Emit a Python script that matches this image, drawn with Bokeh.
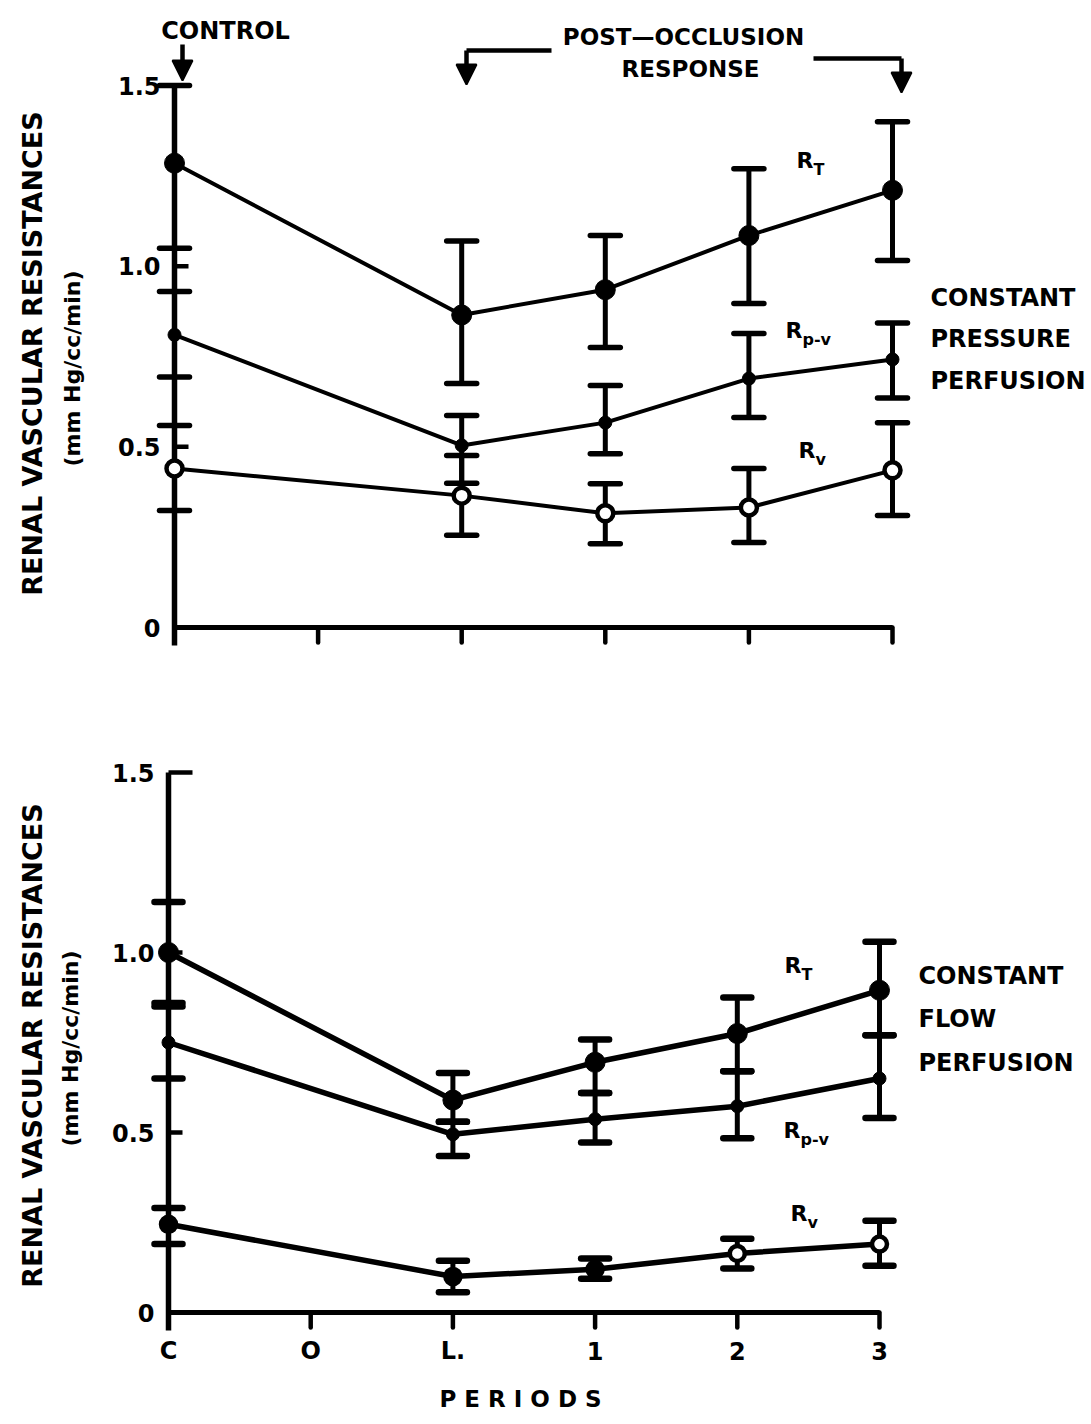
import math
from bokeh.plotting import figure
from bokeh.layouts import column
from bokeh.models import ColumnDataSource, Whisker, TeeHead, Arrow, NormalHead, Range1d
from bokeh.core.properties import value
from bokeh.embed import file_html
from bokeh.resources import INLINE

# ---------------- data ----------------
PERIODS = ["C", "O", "L.", "1", "2", "3"]
MEASURED = ["C", "L.", "1", "2", "3"]
Y_TICKS = [0, 0.5, 1.0, 1.5]
Y_TICK_LABELS = ["0", "0.5", "1.0", "1.5"]

# constant pressure perfusion (top)
rt_top = [1.285, 0.865, 0.935, 1.085, 1.21]
rt_top_hi = [1.50, 1.07, 1.085, 1.27, 1.40]
rt_top_lo = [1.05, 0.675, 0.775, 0.897, 1.016]
rpv_top = [0.81, 0.504, 0.567, 0.689, 0.742]
rpv_top_hi = [0.93, 0.587, 0.67, 0.814, 0.843]
rpv_top_lo = [0.693, 0.399, 0.481, 0.581, 0.635]
rv_top = [0.44, 0.365, 0.316, 0.332, 0.435]
rv_top_hi = [0.559, 0.476, 0.398, 0.44, 0.567]
rv_top_lo = [0.324, 0.255, 0.232, 0.235, 0.31]

# constant flow perfusion (bottom)
rt_bot = [1.00, 0.59, 0.695, 0.775, 0.895]
rt_bot_hi = [1.14, 0.665, 0.758, 0.875, 1.03]
rt_bot_lo = [0.86, 0.53, 0.61, 0.67, 0.77]
rpv_bot = [0.75, 0.495, 0.537, 0.573, 0.65]
rpv_bot_hi = [0.85, 0.53, 0.61, 0.67, 0.77]
rpv_bot_lo = [0.65, 0.435, 0.472, 0.484, 0.54]
rv_bot = [0.245, 0.10, 0.12, 0.164, 0.19]
rv_bot_hi = [0.29, 0.144, 0.15, 0.205, 0.255]
rv_bot_lo = [0.19, 0.056, 0.094, 0.122, 0.13]

SERIES_SUBS = ["T", "p-v", "v"]
Y_TITLE = "RENAL VASCULAR RESISTANCES"
Y_UNITS = "(mm Hg/cc/min)"
X_TITLE = "P E R I O D S"

# marker fills (style) for the venous series in each panel
RV_FILL_TOP = ["white"] * 5
RV_FILL_BOT = ["black", "black", "black", "white", "white"]

FONT = value("DejaVu Sans")
XS = [PERIODS.index(m) for m in MEASURED]
W = 1091


def make_panel(cfg):
    x0, kx, y0, ky, top, h = cfg["x0"], cfg["kx"], cfg["y0"], cfg["ky"], cfg["top"], cfg["h"]
    tx = lambda px: (px - x0) / kx
    ty = lambda py: (y0 - py) / ky
    p = figure(width=W, height=h, output_backend="svg", toolbar_location=None,
               x_axis_type=None, y_axis_type=None, min_border=0,
               x_range=Range1d(tx(0), tx(W)), y_range=Range1d(ty(top + h), ty(top)))
    p.title.visible = False
    p.outline_line_color = None
    p.grid.visible = False
    p.background_fill_color = "white"
    p.border_fill_color = "white"

    lw = cfg["lw"]
    # axes
    p.segment(x0=[0], y0=[-18 / ky], x1=[0], y1=[max(Y_TICKS)], line_width=5.5, color="black")
    p.segment(x0=[0], y0=[0], x1=[len(PERIODS) - 1], y1=[0], line_width=5, color="black")
    xt = list(range(1, len(PERIODS)))
    p.segment(x0=xt, y0=[0] * len(xt), x1=xt, y1=[-15 / ky] * len(xt), line_width=4.5, color="black",
              line_cap="round")
    yt = [t for t in Y_TICKS if 0 < t < max(Y_TICKS)] + ([max(Y_TICKS)] if cfg["toptick"] else [])
    p.segment(x0=[0] * len(yt), y0=yt, x1=[(14 if t < max(Y_TICKS) else 24) / kx for t in yt], y1=yt,
              line_width=4.5, color="black")
    p.text(x=[tx(x0 - 14)] * len(Y_TICKS), y=Y_TICKS, text=Y_TICK_LABELS, text_align="right",
           text_baseline="middle", text_font=FONT, text_font_style="bold", text_font_size="24px",
           color="black")
    if cfg["xlabels"]:
        p.text(x=list(range(len(PERIODS))), y=[ty(y0 + 38)] * len(PERIODS), text=PERIODS,
               text_align="center", text_baseline="middle", text_font=FONT, text_font_style="bold",
               text_font_size="24px", color="black")
        p.text(x=[tx(520)], y=[ty(y0 + 86)], text=[X_TITLE], text_align="center", text_baseline="middle",
               text_font=FONT, text_font_style="bold", text_font_size="23px", color="black")

    # axis titles
    p.text(x=[tx(32)], y=[ty(cfg["ytc"])], text=[Y_TITLE], angle=math.pi / 2, text_align="center",
           text_baseline="middle", text_font=FONT, text_font_style="bold", text_font_size="27px",
           color="black")
    p.text(x=[tx(cfg["utx"])], y=[ty(cfg["utc"])], text=[Y_UNITS], angle=math.pi / 2, text_align="center",
           text_baseline="middle", text_font=FONT, text_font_style="bold", text_font_size="22px",
           color="black")

    # data
    data = cfg["data"]
    for k, (ys, hi, lo) in enumerate(data):
        p.line(XS, ys, line_width=lw, color="black")
    for k, (ys, hi, lo) in enumerate(data):
        src = ColumnDataSource(dict(x=XS, hi=hi, lo=lo))
        p.add_layout(Whisker(source=src, base="x", upper="hi", lower="lo", line_width=5,
                             line_color="black",
                             upper_head=TeeHead(size=cfg["cap"], line_width=cfg["capw"], line_color="black",
                                                line_cap="round"),
                             lower_head=TeeHead(size=cfg["cap"], line_width=cfg["capw"], line_color="black",
                                                line_cap="round")))
    (rt, _, _), (rpv, _, _), (rv, _, _) = data
    p.scatter(XS, rt, marker="circle", size=20, fill_color="black", line_color="black")
    p.scatter(XS, rpv, marker="circle", size=13, fill_color="black", line_color="black")
    src_rv = ColumnDataSource(dict(x=XS, y=rv, fill=cfg["rvfill"]))
    p.scatter("x", "y", source=src_rv, marker="circle", size=cfg["rvsize"], fill_color="fill",
              line_color="black", line_width=4.5)

    # series labels
    for sub, (lx, ly) in zip(SERIES_SUBS, cfg["lab"]):
        p.text(x=[tx(lx)], y=[ty(ly)], text=["R"], text_align="left", text_baseline="middle",
               text_font=FONT, text_font_style="bold", text_font_size="22px", color="black")
        p.text(x=[tx(lx + 17)], y=[ty(ly + 9)], text=[sub], text_align="left", text_baseline="middle",
               text_font=FONT, text_font_style="bold", text_font_size="16px", color="black")

    # side label
    for i, line in enumerate(cfg["side"]):
        p.text(x=[tx(cfg["sidex"])], y=[ty(cfg["sidey"][i])], text=[line], text_align="left",
               text_baseline="middle", text_font=FONT, text_font_style="bold", text_font_size="24px",
               color="black")
    return p, tx, ty


top_cfg = dict(x0=174, kx=143.6, y0=627, ky=361.3, top=0, h=690, lw=4, cap=30, capw=5.5, rvsize=16,
               toptick=False, xlabels=False, ytc=353, utx=72, utc=368, rvfill=RV_FILL_TOP,
               data=[(rt_top, rt_top_hi, rt_top_lo), (rpv_top, rpv_top_hi, rpv_top_lo),
                     (rv_top, rv_top_hi, rv_top_lo)],
               lab=[(796, 160), (785, 330), (798, 450)],
               side=["CONSTANT", "PRESSURE", "PERFUSION"], sidex=930, sidey=[297, 338, 380])
bot_cfg = dict(x0=168, kx=142.2, y0=1312, ky=360, top=690, h=734, lw=5.5, cap=28, capw=6.5, rvsize=15,
               toptick=True, xlabels=True, ytc=1045, utx=70, utc=1048, rvfill=RV_FILL_BOT,
               data=[(rt_bot, rt_bot_hi, rt_bot_lo), (rpv_bot, rpv_bot_hi, rpv_bot_lo),
                     (rv_bot, rv_bot_hi, rv_bot_lo)],
               lab=[(784, 965), (783, 1130), (790, 1213)],
               side=["CONSTANT", "FLOW", "PERFUSION"], sidex=918, sidey=[975, 1018, 1062])

p1, tx1, ty1 = make_panel(top_cfg)
p2, tx2, ty2 = make_panel(bot_cfg)

# top annotations
p1.text(x=[tx1(225)], y=[ty1(30)], text=["CONTROL"], text_align="center", text_baseline="middle",
        text_font=FONT, text_font_style="bold", text_font_size="24px", color="black")
p1.text(x=[tx1(683)], y=[ty1(36)], text=["POST\u2014OCCLUSION"], text_align="center", text_baseline="middle",
        text_font=FONT, text_font_style="bold", text_font_size="23px", color="black")
p1.text(x=[tx1(690)], y=[ty1(68)], text=["RESPONSE"], text_align="center", text_baseline="middle",
        text_font=FONT, text_font_style="bold", text_font_size="23px", color="black")
head = dict(size=20, fill_color="black", line_color="black", line_width=2)
p1.add_layout(Arrow(end=NormalHead(**head), x_start=tx1(182), y_start=ty1(44), x_end=tx1(182),
                    y_end=ty1(80), line_width=4.5, line_color="black"))
p1.segment(x0=[tx1(466)], y0=[ty1(50)], x1=[tx1(551)], y1=[ty1(50)], line_width=4.5, color="black")
p1.add_layout(Arrow(end=NormalHead(**head), x_start=tx1(466), y_start=ty1(50), x_end=tx1(466),
                    y_end=ty1(84), line_width=4.5, line_color="black"))
p1.segment(x0=[tx1(813)], y0=[ty1(58)], x1=[tx1(901)], y1=[ty1(58)], line_width=4.5, color="black")
p1.add_layout(Arrow(end=NormalHead(**head), x_start=tx1(901), y_start=ty1(58), x_end=tx1(901),
                    y_end=ty1(92), line_width=4.5, line_color="black"))

layout = column(p1, p2, spacing=0)
open("out.html", "w").write(file_html(layout, INLINE))
